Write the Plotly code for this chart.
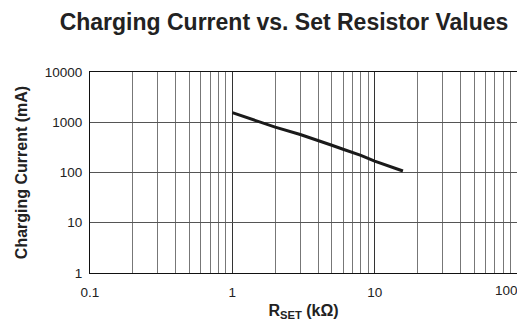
import math
import plotly.graph_objects as go

# Data
rset_kohm = [1.0, 1.7, 2.0, 3.0, 4.0, 5.0, 6.0, 8.0, 10.0, 15.8]
current_ma = [1550, 910, 800, 570, 440, 348, 290, 220, 169, 107]

x_tickvals = [0.1, 1, 10, 100]
x_ticktext = ["0.1", "1", "10", "100"]
y_tickvals = [1, 10, 100, 1000, 10000]
y_ticktext = ["1", "10", "100", "1000", "10000"]

x_minor = [m * 10 ** e for e in (-1, 0, 1) for m in range(2, 10)]

fig = go.Figure()
fig.add_trace(go.Scatter(
    x=rset_kohm, y=current_ma, mode="lines",
    line=dict(color="#1a1a1a", width=3),
    showlegend=False,
))

font_family = "Liberation Sans, Arial, sans-serif"

# the page adds an 8px body margin, so the figure is 8px smaller on each side
W, H = 517, 313
fig.update_layout(
    width=W, height=H,
    margin=dict(l=82, r=8, t=64, b=48, autoexpand=False),
    paper_bgcolor="white", plot_bgcolor="white",
    font=dict(family=font_family, size=13.5, color="#222"),
    title=dict(
        text="<b>Charging Current vs. Set Resistor Values</b>",
        x=276 / W, xanchor="center", y=1 - 14 / H, yanchor="middle",
        font=dict(size=23, color="#222", family=font_family),
    ),
)

# last x tick label sits at the figure edge: draw it right-aligned to its gridline
fig.add_annotation(
    x=math.log10(x_tickvals[-1]), xref="x", y=0, yref="paper",
    text=x_ticktext[-1], showarrow=False,
    xanchor="right", yanchor="top", xshift=3, yshift=-8,
    font=dict(size=13.5, color="#222", family=font_family),
)

fig.update_xaxes(
    type="log", range=[-1, 2], automargin=False,
    tickvals=x_tickvals[:-1], ticktext=x_ticktext[:-1],
    showgrid=True, gridcolor="#333", gridwidth=1,
    minor=dict(tickvals=x_minor, showgrid=True, gridcolor="#777", gridwidth=1, ticks=""),
    showline=True, linecolor="#111", linewidth=1, mirror=True,
    ticks="", zeroline=False, ticklabelstandoff=7,
    tickfont=dict(size=13.5, color="#222"),
    title=dict(text="<b>R<sub>SET</sub> (kΩ)</b>", font=dict(size=16, color="#222"), standoff=13),
)
fig.update_yaxes(
    type="log", range=[0, 4], automargin=False,
    tickvals=y_tickvals, ticktext=y_ticktext,
    showgrid=True, gridcolor="#555", gridwidth=1,
    showline=True, linecolor="#111", linewidth=1, mirror=True,
    ticks="", zeroline=False, ticklabelstandoff=4,
    tickfont=dict(size=13.5, color="#222"),
    title=dict(text="<b>Charging Current (mA)</b>", font=dict(size=16, color="#222"), standoff=13),
)

fig.write_html("out.html")
